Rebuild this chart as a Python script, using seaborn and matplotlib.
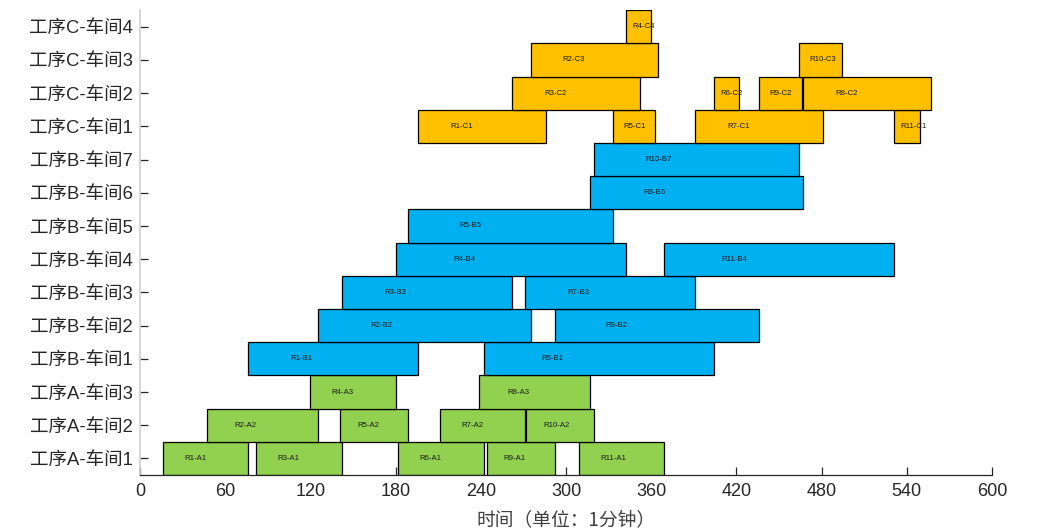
import matplotlib
matplotlib.use("Agg")
import matplotlib.pyplot as plt
import seaborn as sns
import pandas as pd

# ---- data ----
row_labels = ["工序A-车间1", "工序A-车间2", "工序A-车间3",
              "工序B-车间1", "工序B-车间2", "工序B-车间3", "工序B-车间4",
              "工序B-车间5", "工序B-车间6", "工序B-车间7",
              "工序C-车间1", "工序C-车间2", "工序C-车间3", "工序C-车间4"]

task_names = ["R1-A1", "R3-A1", "R6-A1", "R9-A1", "R11-A1",
              "R2-A2", "R5-A2", "R7-A2", "R10-A2",
              "R4-A3", "R8-A3",
              "R1-B1", "R6-B1",
              "R2-B2", "R9-B2",
              "R3-B3", "R7-B3",
              "R4-B4", "R11-B4",
              "R5-B5", "R8-B6", "R10-B7",
              "R1-C1", "R5-C1", "R7-C1", "R11-C1",
              "R3-C2", "R6-C2", "R9-C2", "R8-C2",
              "R2-C3", "R10-C3", "R4-C4"]

task_rows = [0, 0, 0, 0, 0,
             1, 1, 1, 1,
             2, 2,
             3, 3,
             4, 4,
             5, 5,
             6, 6,
             7, 8, 9,
             10, 10, 10, 10,
             11, 11, 11, 11,
             12, 12, 13]

task_start = [16, 82, 182, 244, 309,
              47, 141, 211, 272,
              120, 239,
              76, 242,
              125, 292,
              142, 271,
              180, 369,
              189, 317, 320,
              196, 333, 391, 531,
              262, 404, 436, 467,
              275, 464, 342]

task_end = [76, 142, 242, 292, 369,
            125, 189, 271, 320,
            180, 317,
            196, 404,
            275, 436,
            262, 391,
            342, 531,
            333, 467, 464,
            286, 363, 481, 549,
            352, 422, 466, 557,
            365, 494, 360]

x_ticks = [0, 60, 120, 180, 240, 300, 360, 420, 480, 540, 600]
process_colors = {"A": "#92D050", "B": "#00B0F0", "C": "#FFC000"}

df = pd.DataFrame({"task": task_names, "row": task_rows,
                   "start": task_start, "end": task_end})
df["dur"] = df["end"] - df["start"]
df["proc"] = df["task"].str.split("-").str[1].str[0]

# ---- style ----
sns.set_theme(style="white")
plt.rcParams["font.family"] = ["Liberation Sans", "Noto Sans CJK SC", "DejaVu Sans"]

fig = plt.figure(figsize=(10.48, 5.32), dpi=100)
ax = fig.add_axes([0.1336, 0.107, 0.813, 0.874])

for _, r in df.iterrows():
    ax.barh(r["row"], r["dur"], left=r["start"], height=1.0,
            color=process_colors[r["proc"]], edgecolor="black", linewidth=0.9)
    ax.text(r["start"] + r["dur"] / 4, r["row"], r["task"],
            ha="left", va="center", fontsize=5.6, color="#1a1a1a")

ax.set_xlim(0, 600)
ax.set_ylim(-0.5, 13.5)
ax.set_xticks(x_ticks)
ax.set_xticklabels([str(t) for t in x_ticks])
ax.set_yticks(range(len(row_labels)))
ax.set_yticklabels(row_labels)

ax.tick_params(axis="both", direction="in", length=6, width=0.9,
               colors="#262626")
ax.tick_params(axis="x", bottom=True, pad=6, labelsize=13)
ax.tick_params(axis="y", left=True, pad=5, labelsize=13.3)

for s in ["top", "right"]:
    ax.spines[s].set_visible(False)
ax.spines["left"].set_color("#d0d0d0")
ax.spines["left"].set_linewidth(1.2)
ax.spines["bottom"].set_color("#262626")
ax.spines["bottom"].set_linewidth(0.9)

ax.set_xlabel("时间（单位：1分钟）", fontsize=13.5, color="#404040", labelpad=7,
              family=["Noto Sans CJK SC", "DejaVu Sans"])
ax.set_ylabel("")
ax.grid(False)

fig.savefig("out.png", dpi=100)
